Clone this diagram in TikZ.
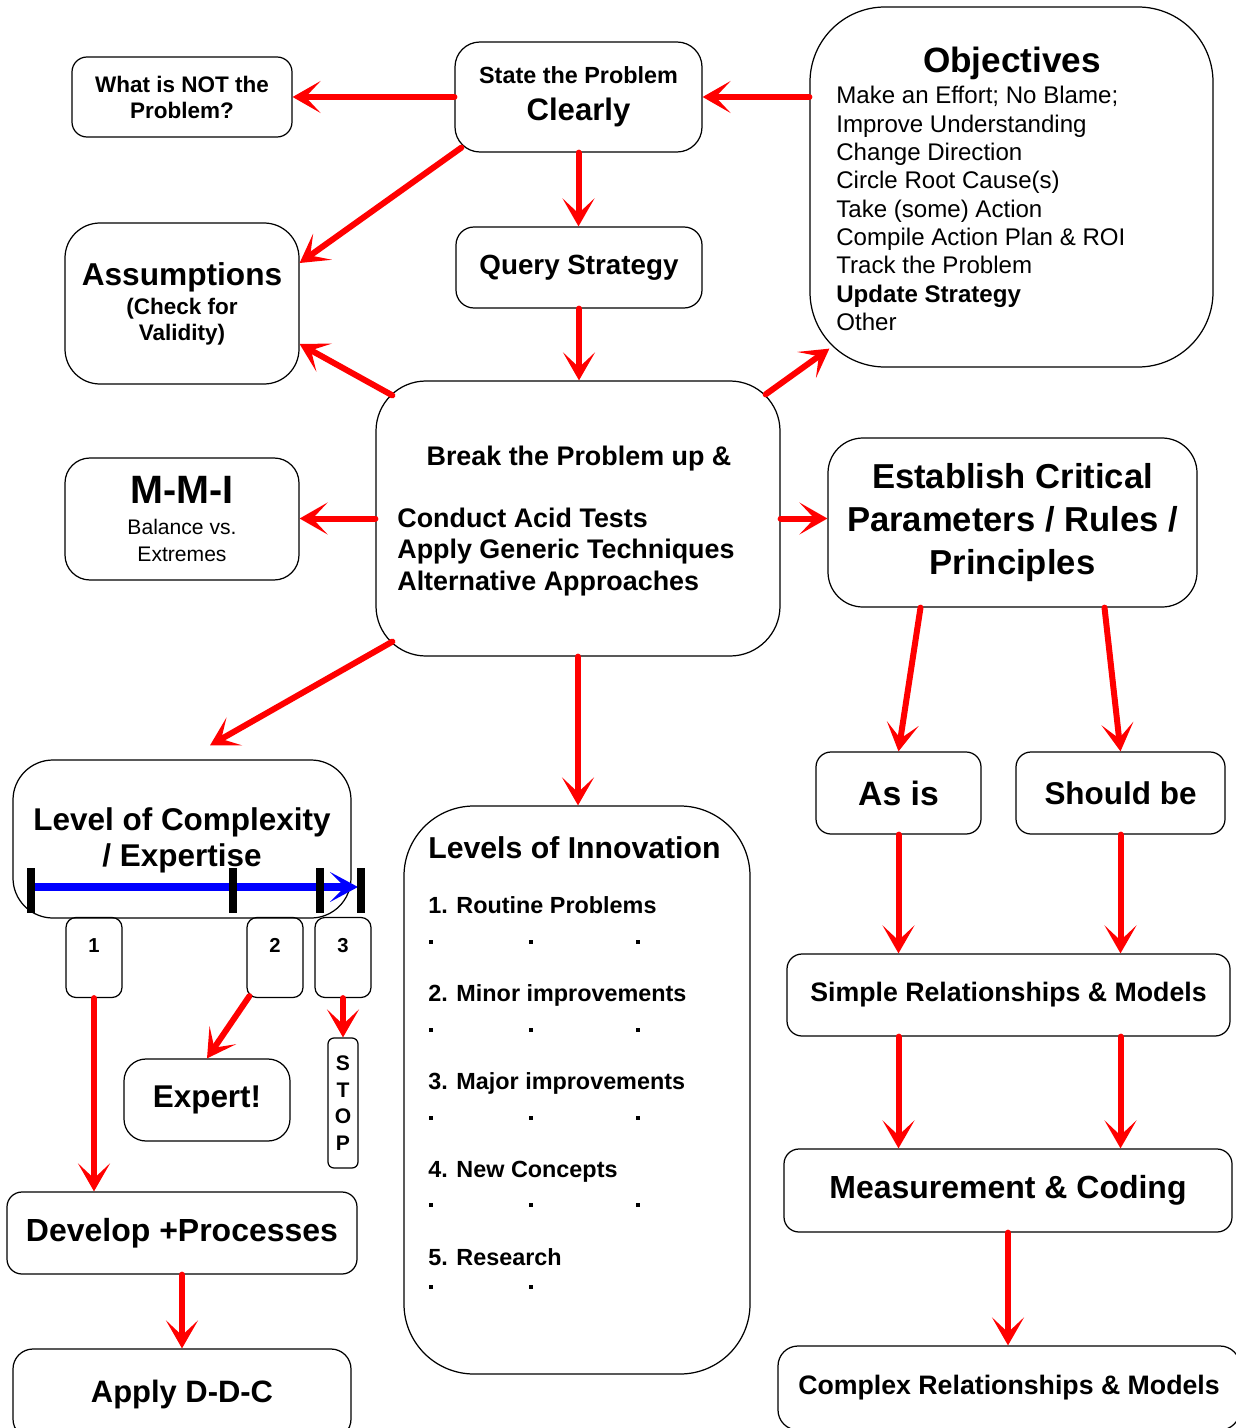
\documentclass[tikz,border=0pt]{standalone}
\usepackage{fontspec}
\setmainfont{Liberation Sans}
\usetikzlibrary{arrows.meta}
\newcommand{\setsz}[2]{\fontsize{#1pt}{#2pt}\selectfont}

\begin{document}
\begin{tikzpicture}[
    x=0.2mm, y=-0.2mm,
    box/.style={draw, line width=0.7pt, align=center, font=\bfseries},
    txt/.style={inner sep=0pt},
    flow/.style={-{Stealth[length=5.6mm, width=6.4mm, inset=3mm]}, red, line width=1.2mm, line cap=round},
    scalearrow/.style={-{Stealth[length=5.6mm, width=6mm, inset=3mm]}, blue, line width=1.6mm},
    scalemark/.style={black, line width=1.6mm},
    tinybox/.style={box, rounded corners=2mm, minimum width=11.2mm, minimum height=16mm, text height=2.9mm, text depth=5mm, font=\bfseries\setsz{11.5}{13}}
]
\useasboundingbox (0,0) rectangle (1235,1428);

% top row
\node[box, rounded corners=3mm, minimum width=44mm, minimum height=16mm, font=\bfseries\setsz{12.8}{14.8}] (notprob) at (182,97) {What is NOT the\\Problem?};
\node[box, rounded corners=5mm, minimum width=49.4mm, minimum height=22mm, font=\bfseries\setsz{13.3}{15}] (state) at (578.5,97) {State the Problem\\[2.2mm]\setsz{17.7}{20}Clearly};
\node[box, rounded corners=15mm, minimum width=80.6mm, minimum height=72mm] (objectives) at (1011.5,187) {};
\node[txt, anchor=base, font=\bfseries\setsz{20}{24}] (objtitle) at (1012,73) {Objectives};
\foreach \entry [count=\k] in {Make an Effort; No Blame;, Improve Understanding, Change Direction, Circle Root Cause(s), Take (some) Action, Compile Action Plan \& ROI, Track the Problem, \textbf{Update Strategy}, Other}
    \node[txt, anchor=base west, font=\setsz{13.7}{16}] (obj\k) at (836,{104+28.3*(\k-1)}) {\entry};

\node[box, rounded corners=7mm, minimum width=46.8mm, minimum height=32.2mm, font=\bfseries\setsz{18}{14.8}] (assume) at (182,303.5) {Assumptions\\[1.7pt]\setsz{12.8}{14.8}(Check for\\\setsz{12.8}{14.8}Validity)};
\node[box, rounded corners=3.6mm, minimum width=49.2mm, minimum height=16.2mm, font=\bfseries\setsz{15.8}{18}] (query) at (579,267.5) {Query Strategy};

% middle
\node[box, rounded corners=10mm, minimum width=80.8mm, minimum height=55mm] (breakup) at (578,518.5) {};
\node[txt, anchor=base, font=\bfseries\setsz{15.3}{18}] (breaktitle) at (579,465) {Break the Problem up \&};
\foreach \entry [count=\k] in {Conduct Acid Tests, Apply Generic Techniques, Alternative Approaches}
    \node[txt, anchor=base west, font=\bfseries\setsz{15.3}{18}] (break\k) at (397,{527+31.5*(\k-1)}) {\entry};

\node[box, rounded corners=5mm, minimum width=46.8mm, minimum height=24.4mm, font=\bfseries\setsz{22.5}{15.3}] (mmi) at (182,519) {M-M-I\\[2.3pt]\mdseries\setsz{12}{15.3}Balance vs.\\\mdseries\setsz{12}{15.3}Extremes};
\node[box, rounded corners=7mm, minimum width=73.8mm, minimum height=33.8mm, font=\bfseries\setsz{19.7}{24.4}] (critical) at (1012.5,522.5) {Establish Critical\\Parameters / Rules /\\Principles};

% right column
\node[box, rounded corners=3mm, minimum width=33mm, minimum height=16.4mm, font=\bfseries\setsz{19.2}{22}] (asis) at (898.5,793) {As is};
\node[box, rounded corners=3mm, minimum width=41.8mm, minimum height=16.4mm, font=\bfseries\setsz{17.9}{21}] (shouldbe) at (1120.5,793) {Should be};
\node[box, rounded corners=3mm, minimum width=88.6mm, minimum height=16.4mm, font=\bfseries\setsz{15.2}{18}] (simple) at (1008.5,995) {Simple Relationships \& Models};
\node[box, rounded corners=3mm, minimum width=89.6mm, minimum height=16.6mm, font=\bfseries\setsz{18.2}{21}] (measure) at (1008,1190.5) {Measurement \& Coding};
\node[box, rounded corners=4mm, minimum width=92.4mm, minimum height=16.8mm, font=\bfseries\setsz{15.2}{18}] (complex) at (1009,1388) {Complex Relationships \& Models};

% left column
\node[box, rounded corners=8mm, minimum width=67.6mm, minimum height=31.6mm, font=\bfseries\setsz{17.9}{20.3}] (level) at (182,839) {\rule{0pt}{5mm}Level of Complexity\\/ Expertise};
\coordinate (scalestart) at (30,887);
\coordinate (scaleend) at (358,887);
\draw[scalearrow] (scalestart) -- (scaleend);
\foreach \t in {31,233,320,361}
    \draw[scalemark] (\t,868) -- (\t,913);
\node[tinybox] (lvl1) at (94,957.5) {1};
\node[tinybox] (lvl2) at (275,957.5) {2};
\node[tinybox] (lvl3) at (343,957.5) {3};
\node[box, rounded corners=4.4mm, minimum width=33.2mm, minimum height=16.4mm, font=\bfseries\setsz{17.9}{21}] (expert) at (207,1100) {Expert!};
\node[box, rounded corners=1.2mm, inner sep=0pt, minimum width=6mm, minimum height=26mm, font=\bfseries\setsz{12}{15.2}] (stop) at (343,1103) {S\\T\\O\\P};
\node[box, rounded corners=3mm, minimum width=70mm, minimum height=16.4mm, font=\bfseries\setsz{18.2}{21}] (develop) at (182,1233) {Develop +Processes};
\node[box, rounded corners=4mm, minimum width=67.6mm, minimum height=18mm, font=\bfseries\setsz{17.6}{21}] (apply) at (182,1394) {Apply D-D-C};

% innovation
\node[box, rounded corners=14mm, minimum width=69.2mm, minimum height=113.6mm] (innov) at (577,1090) {};
\node[txt, anchor=base west, font=\bfseries\setsz{17.2}{20}] (innovtitle) at (428,858) {Levels of Innovation};
\foreach \entry [count=\k] in {1. Routine Problems, 2. Minor improvements, 3. Major improvements, 4. New Concepts, 5. Research}
    \node[txt, anchor=base west, font=\bfseries\setsz{13.3}{16}] (innov\k) at (428,{913+88*(\k-1)}) {\entry};
\foreach \row in {942,1030,1118,1205}
    \foreach \col in {431,531,638}
        \fill (\col-1.8,\row-1.8) rectangle +(3.6,3.6);
\foreach \col in {431,531}
    \fill (\col-1.8,1285) rectangle +(3.6,3.6);

% arrows
\draw[flow] (state.west) -- (notprob.east);
\draw[flow] (state.east -| objectives.west) -- (state.east);
\draw[flow] ([shift={(7,-5)}]state.south west) -- (assume.19);
\draw[flow] (state.south) -- (state.south |- query.north);
\draw[flow] (query.south) -- (query.south |- breakup.north);
\draw[flow] ([shift={(17,15)}]breakup.north west) -- (assume.-19);
\draw[flow] ([shift={(-15,14)}]breakup.north east) -- ([shift={(20,-19)}]objectives.south west);
\draw[flow] (breakup.west) -- (breakup.west -| mmi.east);
\draw[flow] (breakup.east) -- (breakup.east -| critical.west);
\draw[flow] ([shift={(17,-15)}]breakup.south west) -- ([shift={(28,-14)}]level.north);
\draw[flow] (breakup.south) -- (breakup.south |- innov.north);
\draw[flow] ([shift={(-92,0)}]critical.south) -- (asis.north);
\draw[flow] ([shift={(92,0)}]critical.south) -- (shouldbe.north);
\draw[flow] (asis.south) -- (asis.south |- simple.north);
\draw[flow] (shouldbe.south) -- (shouldbe.south |- simple.north);
\draw[flow] (asis.south |- simple.south) -- (asis.south |- measure.north);
\draw[flow] (shouldbe.south |- simple.south) -- (shouldbe.south |- measure.north);
\draw[flow] (measure.south) -- (measure.south |- complex.north);
\draw[flow] (lvl1.south) -- (lvl1.south |- develop.north);
\draw[flow] ([shift={(3,-2)}]lvl2.south west) -- (expert.north);
\draw[flow] (lvl3.south) -- (stop.north);
\draw[flow] (develop.south) -- (apply.north);

\end{tikzpicture}
\end{document}
